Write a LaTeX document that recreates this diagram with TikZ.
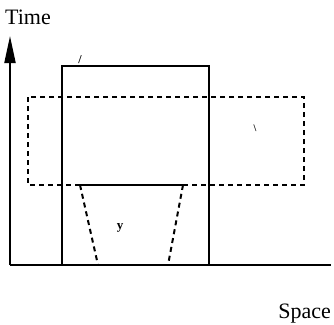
\documentclass[tikz,border=0pt]{standalone}
\usepackage{fontspec}
\setmainfont{Liberation Serif}
\usetikzlibrary{arrows.meta}
\begin{document}
\begin{tikzpicture}[x=1pt,y=-1pt,
  solidline/.style={line width=2pt},
  dashline/.style={line width=2pt,dash pattern=on 5pt off 4pt},
  axislabel/.style={font=\fontsize{22}{24}\selectfont,inner sep=0pt},
  marklabel/.style={font=\bfseries\fontsize{13}{14}\selectfont,inner sep=0pt}]
\useasboundingbox (0,0) rectangle (334,324);
% axes
\coordinate (origin) at (10,265);
\coordinate (ytop) at (10,36);
\coordinate (xend) at (331,265);
\draw[solidline,-{Triangle[length=27pt,width=11pt]}] (origin) -- (ytop);
\draw[solidline] (origin) -- (xend);
\node[axislabel,anchor=base west] (time) at (5,24) {Time};
\node[axislabel,anchor=base east] (space) at (331,318) {Space};
% solid rectangle
\coordinate (s1) at (62,265);
\coordinate (s2) at (62,66);
\coordinate (s3) at (209,66);
\coordinate (s4) at (209,265);
\draw[solidline] (s1) -- (s2) -- (s3) -- (s4);
% dashed rectangle
\draw[dashline] (28,97) rectangle (304,185);
% trapezoid
\coordinate (t1) at (80,185);
\coordinate (t2) at (183,185);
\coordinate (b1) at (98,265);
\coordinate (b2) at (168,265);
\draw[solidline] (t1) -- (t2);
\draw[dashline] (t1) -- (b1);
\draw[dashline] (t2) -- (b2);
\node[marklabel] (ylab) at (120,228) {y};
% small marks
\node[font=\bfseries\fontsize{12}{12}\selectfont,inner sep=0pt] (m1) at (80,60) {/};
\node[font=\bfseries\fontsize{10}{12}\selectfont,inner sep=0pt] (m2) at (255,128) {\textbackslash};
\end{tikzpicture}
\end{document}
